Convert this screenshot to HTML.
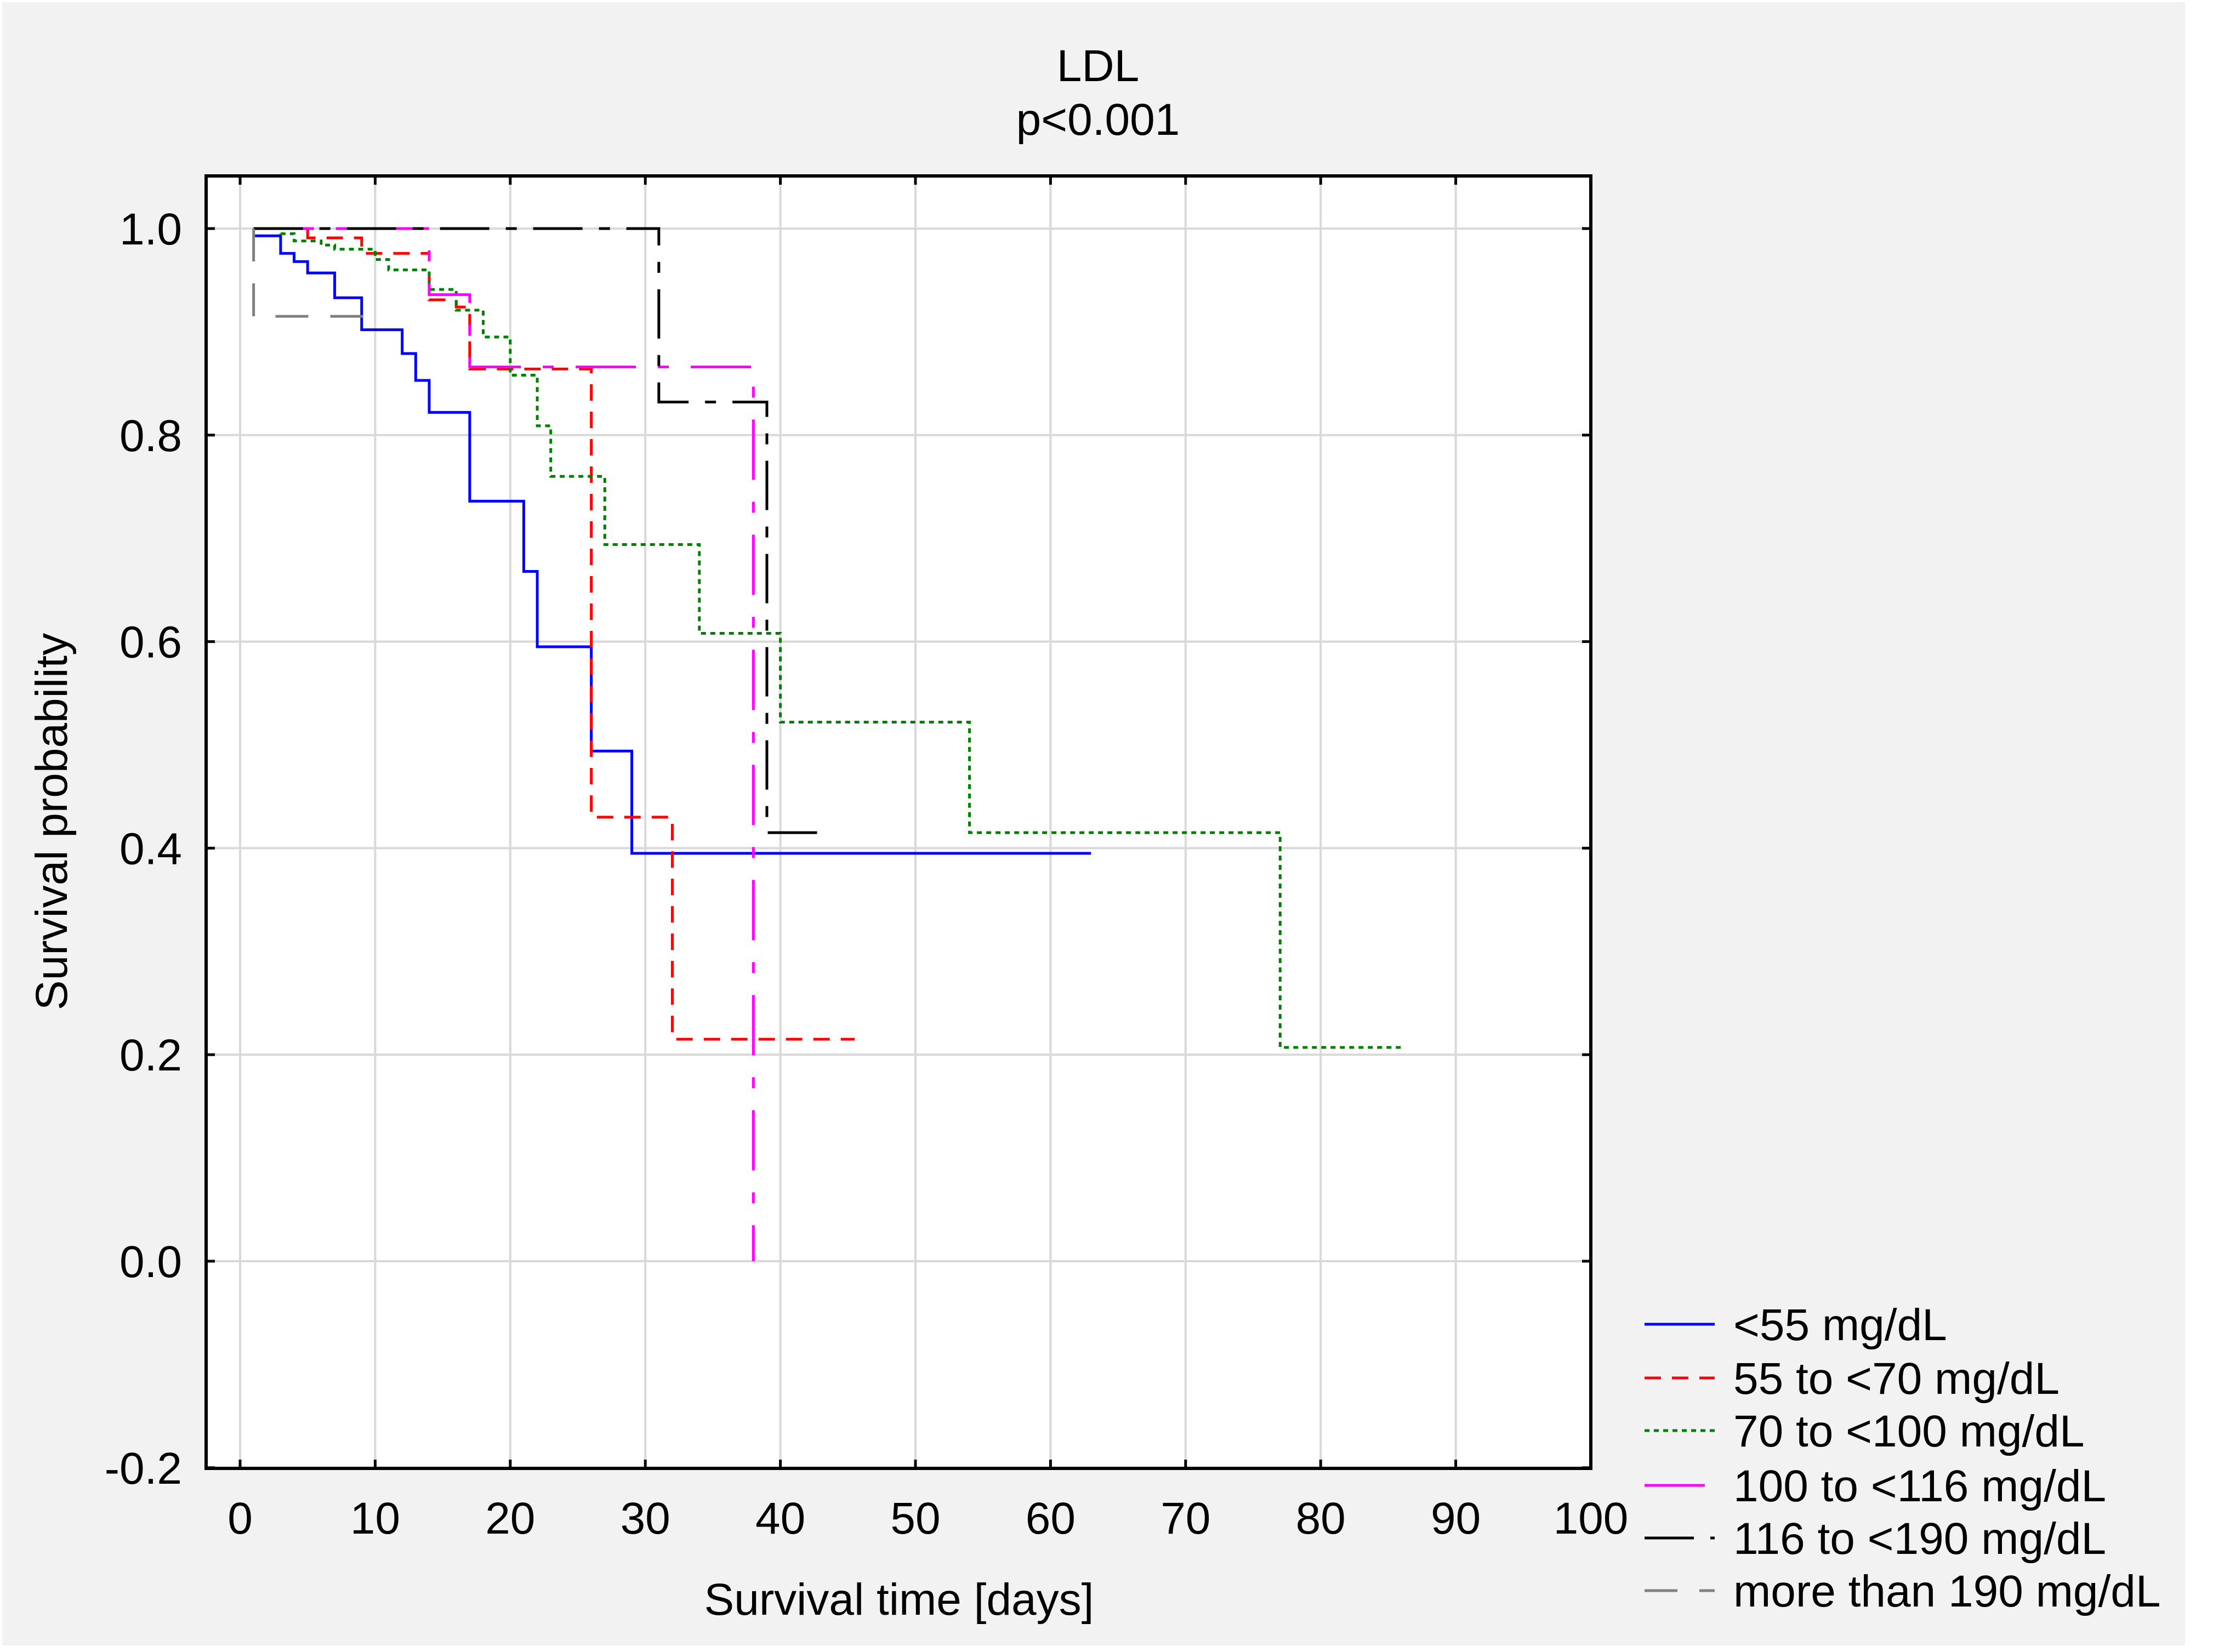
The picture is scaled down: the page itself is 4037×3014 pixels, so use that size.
<!DOCTYPE html>
<html><head><meta charset="utf-8"><style>
html,body{margin:0;padding:0;background:#fff;}
svg{display:block;font-family:"Liberation Sans",sans-serif;}
</style></head><body>
<svg id="chart" width="4037" height="3014" viewBox="0 0 4037 3014" xmlns="http://www.w3.org/2000/svg">
<rect x="4" y="4" width="3982" height="2998" fill="#f2f2f2"/>
<rect x="376" y="321" width="2526" height="2358" fill="#fff"/>
<g id="grid"></g>
<g id="series"></g>
<rect x="376" y="321" width="2526" height="2358" fill="none" stroke="#000" stroke-width="6"/>
<g id="ticks"></g>
<text x="2003" y="148" font-size="82" text-anchor="middle">LDL</text>
<text x="2003" y="246" font-size="82" text-anchor="middle">p&lt;0.001</text>
<text x="1640" y="2946" font-size="82" text-anchor="middle">Survival time [days]</text>
<text x="0" y="0" font-size="82" text-anchor="middle" transform="translate(122,1499) rotate(-90)">Survival probability</text>
<g id="legend"></g>
</svg>
<script>
const xTicks = [0,10,20,30,40,50,60,70,80,90,100];
const yTicks = [-0.2,0.0,0.2,0.4,0.6,0.8,1.0];
const yTickLabels = ["-0.2","0.0","0.2","0.4","0.6","0.8","1.0"];
const seriesNames = ["<55 mg/dL","55 to <70 mg/dL","70 to <100 mg/dL","100 to <116 mg/dL","116 to <190 mg/dL","more than 190 mg/dL"];
const blueTimes = [3,4,5,7,9,12,13,14,17,21,22,26,29];
const blueVals = [0.976,0.968,0.957,0.933,0.902,0.879,0.853,0.822,0.736,0.668,0.595,0.494,0.395];
const blueStart = 1.1, blueStartVal = 0.993, blueEnd = 63;
const redTimes = [5,9,14,16,17,26,32];
const redVals = [0.991,0.976,0.931,0.924,0.864,0.430,0.215];
const redStart = 1, redEnd = 45.5;
const greenTimes = [3,4,6,7,10,11,14,16,18,20,22,23,27,34,40,54,77];
const greenVals = [0.995,0.988,0.984,0.980,0.970,0.960,0.941,0.921,0.895,0.858,0.809,0.760,0.694,0.608,0.522,0.415,0.207];
const greenStart = 2, greenEnd = 86;
const magentaTimes = [14,17,38];
const magentaVals = [0.936,0.866,0.0];
const magentaStart = 1, magentaEnd = 38;
const blackTimes = [31,39];
const blackVals = [0.832,0.415];
const blackStart = 1, blackEnd = 43;
const grayTimes = [1];
const grayVals = [0.915];
const grayStart = 1, grayEnd = 10;

const NS = "http://www.w3.org/2000/svg";
function X(d){ return 438 + d*24.64; }
function Y(v){ return 2301 - v*1884; }
function mk(tag, attrs, parent){ const e=document.createElementNS(NS,tag); for(const k in attrs) e.setAttribute(k,attrs[k]); parent.appendChild(e); return e; }

const grid = document.getElementById('grid');
const ticks = document.getElementById('ticks');
xTicks.forEach((t,i)=>{
  if (t < 100) {
    const g = mk('line',{x1:X(t),x2:X(t),y1:321,y2:2679,stroke:'#d9d9d9','stroke-width':4},grid);
    
    
  }
  const a = mk('line',{x1:X(t),x2:X(t),y1:2679,y2:2663,stroke:'#000','stroke-width':5},ticks);
  
  
  const b = mk('line',{x1:X(t),x2:X(t),y1:321,y2:337,stroke:'#000','stroke-width':5},ticks);
  
  
  const l = mk('text',{x:X(t),y:2798,'font-size':82,'text-anchor':'middle'},ticks);
  l.textContent = String(t);
  
  
});
yTicks.forEach((t,i)=>{
  if (t > -0.1) {
    const g = mk('line',{x1:376,x2:2902,y1:Y(t),y2:Y(t),stroke:'#d9d9d9','stroke-width':4},grid);
    
    
  }
  const a = mk('line',{x1:376,x2:392,y1:Y(t),y2:Y(t),stroke:'#000','stroke-width':5},ticks);
  
  
  const b = mk('line',{x1:2886,x2:2902,y1:Y(t),y2:Y(t),stroke:'#000','stroke-width':5},ticks);
  
  
  const l = mk('text',{x:332,y:Y(t)+29,'font-size':82,'text-anchor':'end'},ticks);
  l.textContent = yTickLabels[i];
  
  
});

const styles = [
  {color:'#0000ff', dash:''},
  {color:'#ff0000', dash:'30,20'},
  {color:'#008000', dash:'9,8'},
  {color:'#ff00ff', dash:'110,40,20,40'},
  {color:'#000000', dash:'90,30,20,30'},
  {color:'#808080', dash:'60,40'}
];
function stepPath(start, startVal, times, vals, end){
  let d = 'M'+X(start)+','+Y(startVal);
  for (let i=0;i<times.length;i++){
    d += ' H'+X(times[i]) + ' V'+Y(vals[i]);
  }
  d += ' H'+X(end);
  return d;
}
const seriesG = document.getElementById('series');
const defs = [
  [blueStart, blueStartVal, blueTimes, blueVals, blueEnd, 'series-lt55'],
  [redStart, 1.0, redTimes, redVals, redEnd, 'series-55-70'],
  [greenStart, 1.0, greenTimes, greenVals, greenEnd, 'series-70-100'],
  [magentaStart, 1.0, magentaTimes, magentaVals, magentaEnd, 'series-100-116'],
  [blackStart, 1.0, blackTimes, blackVals, blackEnd, 'series-116-190'],
  [grayStart, 1.0, grayTimes, grayVals, grayEnd, 'series-gt190']
];
defs.forEach((s,i)=>{
  const p = mk('path',{d:stepPath(s[0],s[1],s[2],s[3],s[4]),fill:'none',stroke:styles[i].color,'stroke-width':5,'stroke-dasharray':styles[i].dash},seriesG);
  
  
});

const legend = document.getElementById('legend');
const legendY = [2416,2514,2610,2710,2806,2902];
seriesNames.forEach((n,i)=>{
  const ln = mk('line',{x1:3000,x2:3128,y1:legendY[i],y2:legendY[i],stroke:styles[i].color,'stroke-width':5,'stroke-dasharray':styles[i].dash},legend);
  
  
  const t = mk('text',{x:3162,y:legendY[i]+29,'font-size':82},legend);
  t.textContent = n;
  
  
});
</script>
</body></html>
